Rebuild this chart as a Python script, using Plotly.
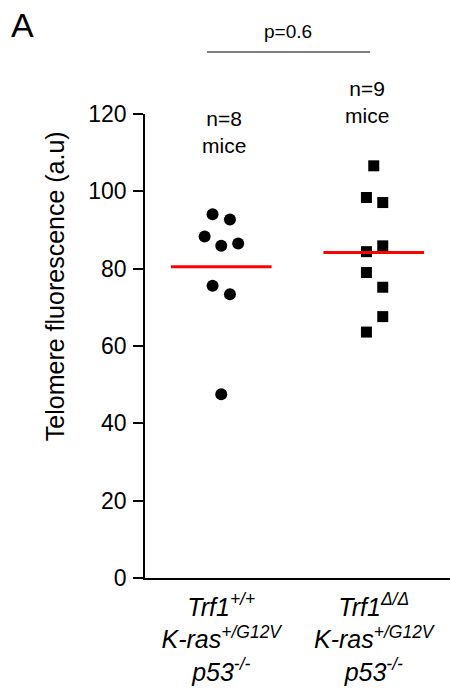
import numpy as np
import plotly.graph_objects as go

# ---- data ----
groups = ["Trf1 +/+", "Trf1 Δ/Δ"]
group_pos = [1, 2]
g1_values = [94.1, 92.7, 88.3, 85.9, 86.5, 75.6, 73.4, 47.5]
g1_jitter = [-0.057, 0.057, -0.109, 0.0, 0.111, -0.057, 0.057, 0.0]
g2_values = [106.6, 98.4, 97.1, 85.9, 84.4, 79.0, 75.2, 67.6, 63.6]
g2_jitter = [0.0, -0.048, 0.059, 0.059, -0.048, -0.048, 0.059, 0.059, -0.048]
tick_labels = [
    "<i>Trf1<sup>+/+</sup><br>K-ras<sup>+/G12V</sup><br>p53<sup>-/-</sup></i>",
    "<i>Trf1<sup>Δ/Δ</sup><br>K-ras<sup>+/G12V</sup><br>p53<sup>-/-</sup></i>",
]
n_labels = ["n=8<br>mice", "n=9<br>mice"]
p_label = "p=0.6"
y_ticks = [0, 20, 40, 60, 80, 100, 120]

FONT = "Liberation Sans, Arial, sans-serif"

fig = go.Figure()

fig.add_trace(go.Scatter(
    x=[group_pos[0] + j for j in g1_jitter], y=g1_values, mode="markers",
    marker=dict(symbol="circle", size=12, color="black"), showlegend=False))
fig.add_trace(go.Scatter(
    x=[group_pos[1] + j for j in g2_jitter], y=g2_values, mode="markers",
    marker=dict(symbol="square", size=11, color="black"), showlegend=False))

half = 0.33
for pos, vals in zip(group_pos, [g1_values, g2_values]):
    m = float(np.mean(vals))
    fig.add_trace(go.Scatter(x=[pos - half, pos + half], y=[m, m], mode="lines",
                             line=dict(color="#ff0000", width=3), showlegend=False))


def note(x, y, text, size, angle=0):
    fig.add_annotation(x=x, y=y, xref="paper", yref="paper", text=text,
                       xanchor="center", yanchor="middle", textangle=angle,
                       showarrow=False, font=dict(size=size, color="black", family=FONT))


# n labels
note(0.259, 0.961, n_labels[0], 21)
note(0.7295, 1.026, n_labels[1], 21)

# p value bracket
fig.add_shape(type="line", xref="paper", yref="paper", x0=0.203, x1=0.738,
              y0=1.1336, y1=1.1336, line=dict(color="#555555", width=1.5))
note(0.469, 1.177, p_label, 19)

# panel letter
note(-0.403, 1.192, "A", 34)

# y title
note(-0.295, 0.629, "Telomere fluorescence (a.u)", 25, angle=-90)

fig.update_xaxes(range=[0.5, 2.5], tickvals=group_pos, ticktext=tick_labels,
                 showline=True, linecolor="black", linewidth=1.5, ticks="",
                 showgrid=False, zeroline=False, ticklabelstandoff=6,
                 tickfont=dict(size=25, color="black", family=FONT))
fig.update_yaxes(range=[0, 120], tickvals=y_ticks, showline=True, linecolor="black",
                 linewidth=1.5, ticks="outside", ticklen=10, tickwidth=1.5,
                 tickcolor="black", showgrid=False, zeroline=False,
                 ticklabelstandoff=2,
                 tickfont=dict(size=23, color="black", family=FONT))

fig.update_layout(width=450, height=691, margin=dict(l=145, r=0, t=114, b=113),
                  plot_bgcolor="white", paper_bgcolor="white",
                  font=dict(family=FONT, color="black"))

fig.write_html("out.html")
